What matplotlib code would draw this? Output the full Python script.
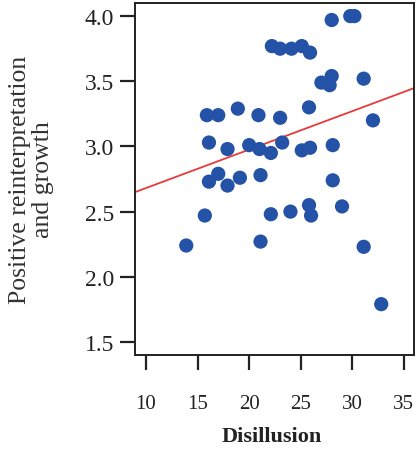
"""
Scatter of positive reinterpretation vs disillusion with fitted line
"""
import numpy as np
import matplotlib
matplotlib.use("Agg")
import matplotlib.pyplot as plt

# values
disillusion = [
    13.9, 15.7, 15.9, 17.0, 18.9, 20.9, 23.0, 25.8, 32.0,
    16.1, 17.9, 20.0, 21.0, 22.1, 23.2, 25.1, 25.9, 28.1,
    16.1, 17.0, 17.9, 19.1, 21.1, 28.1,
    22.1, 24.0, 25.8, 26.0, 29.0,
    21.1, 31.1, 32.8,
    28.0, 29.8, 30.2,
    22.2, 23.0, 24.1, 25.1, 25.9,
    27.0, 28.0, 27.8, 31.1,
]
growth = [
    2.24, 2.47, 3.24, 3.24, 3.29, 3.24, 3.22, 3.30, 3.20,
    3.03, 2.98, 3.01, 2.98, 2.95, 3.03, 2.97, 2.99, 3.01,
    2.73, 2.79, 2.70, 2.76, 2.78, 2.74,
    2.48, 2.50, 2.55, 2.47, 2.54,
    2.27, 2.23, 1.79,
    3.97, 4.00, 4.00,
    3.77, 3.75, 3.75, 3.77, 3.72,
    3.49, 3.54, 3.47, 3.52,
]

# fitted regression line
fit_intercept = 2.386
fit_slope = 0.0295

x_ticks = [10, 15, 20, 25, 30, 35]
y_ticks = [1.5, 2.0, 2.5, 3.0, 3.5, 4.0]

plt.rcParams["font.family"] = ["Liberation Serif", "DejaVu Serif"]

fig = plt.figure(figsize=(4.16, 4.52), dpi=100)
ax = fig.add_axes([0.3245, 0.2124, 0.6705, 0.7786])

ax.scatter(disillusion, growth, s=105, color="#2352a6", edgecolors="none", zorder=3)

line_x = np.array([8.9, 36.0])
ax.plot(line_x, fit_intercept + fit_slope * line_x, color="#e83a3a", lw=1.3, zorder=2)

ax.set_xlim(8.93, 35.97)
ax.set_ylim(1.4, 4.1)
ax.set_xticks(x_ticks)
ax.set_yticks(y_ticks)
ax.set_yticklabels([f"{v:.1f}" for v in y_ticks])

ax.tick_params(axis="x", direction="out", length=11, width=1.6, pad=17,
               labelsize=15, colors="#222222")
ax.tick_params(axis="y", direction="out", length=11, width=1.6, pad=4,
               labelsize=17, colors="#222222")
for sp in ax.spines.values():
    sp.set_linewidth(1.4)
    sp.set_color("#222222")

ax.set_xlabel("Disillusion", fontsize=16, fontweight="bold", color="#222222")
ax.xaxis.set_label_coords(0.49, -0.202)
ax.set_ylabel("Positive reinterpretation\nand growth", fontsize=18.5, color="#333333",
              linespacing=1.05)
ax.yaxis.set_label_coords(-0.29, 0.5)

fig.savefig("out.png", dpi=100)
